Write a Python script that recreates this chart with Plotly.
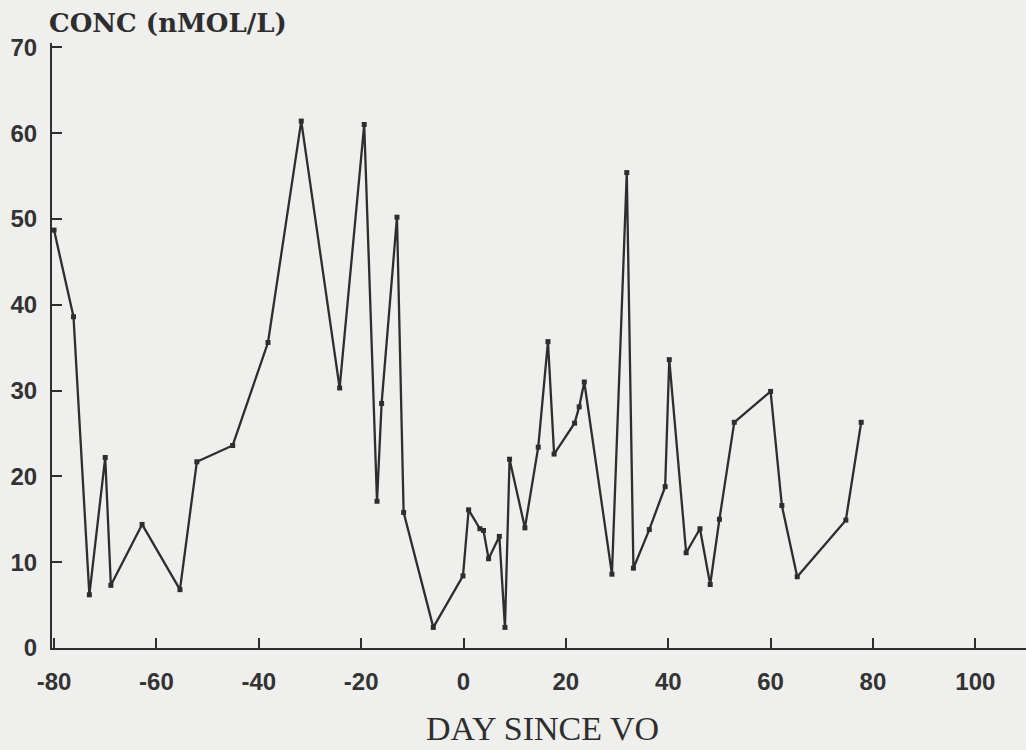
import plotly.graph_objects as go

# Day since VO (x) and concentration in nmol/L (y)
days = [-80, -76.2, -73.1, -70.0, -68.9, -62.8, -55.4, -52.1, -45.1, -38.2,
        -31.7, -24.2, -19.4, -16.9, -16.0, -13.0, -11.7, -5.9, -0.1, 1.0,
        3.2, 3.9, 4.9, 7.0, 8.1, 9.0, 12.0, 14.6, 16.5, 17.7,
        21.7, 22.6, 23.6, 29.0, 31.9, 33.2, 36.3, 39.4, 40.2, 43.5,
        46.2, 48.2, 50.0, 52.9, 60.0, 62.2, 65.2, 74.7, 77.7]
conc = [48.7, 38.6, 6.2, 22.2, 7.3, 14.4, 6.8, 21.7, 23.6, 35.6,
        61.4, 30.3, 61.0, 17.1, 28.5, 50.2, 15.8, 2.4, 8.4, 16.1,
        13.9, 13.7, 10.4, 13.0, 2.4, 22.0, 14.0, 23.4, 35.7, 22.6,
        26.2, 28.1, 31.0, 8.6, 55.4, 9.3, 13.8, 18.8, 33.6, 11.1,
        13.9, 7.4, 15.0, 26.3, 29.9, 16.6, 8.3, 14.9, 26.3]

x_ticks = [-80, -60, -40, -20, 0, 20, 40, 60, 80, 100]
y_ticks = [0, 10, 20, 30, 40, 50, 60, 70]
y_title = "CONC (nMOL/L)"
x_title = "DAY SINCE VO"

ink = "#2e2e2e"
bg = "#efefed"

fig = go.Figure()
fig.add_trace(go.Scatter(
    x=days, y=conc, mode="lines+markers",
    line=dict(color=ink, width=2.3),
    marker=dict(symbol="square", size=5, color=ink),
    showlegend=False, hoverinfo="skip",
))

tick_font = dict(family="Liberation Sans", size=24, color="#333333", weight="bold")

fig.update_layout(
    width=1026, height=750,
    margin=dict(l=52, r=0, t=43, b=102),
    paper_bgcolor=bg, plot_bgcolor=bg,
    xaxis=dict(
        range=[-80.4, 109.9], tickvals=x_ticks,
        ticktext=[str(v) for v in x_ticks],
        ticks="inside", ticklen=10, tickwidth=2, tickcolor=ink,
        showline=True, linecolor=ink, linewidth=2,
        showgrid=False, zeroline=False, tickfont=tick_font,
        ticklabelstandoff=11,
    ),
    yaxis=dict(
        range=[0, 70.5], tickvals=y_ticks,
        ticktext=[str(v) for v in y_ticks],
        ticks="inside", ticklen=10, tickwidth=1.5, tickcolor=ink,
        showline=True, linecolor=ink, linewidth=2,
        showgrid=False, zeroline=False, tickfont=tick_font,
        ticklabelstandoff=8,
    ),
    annotations=[
        dict(text=y_title, xref="paper", yref="paper", x=-0.005, y=1.0,
             xanchor="left", yanchor="bottom", yshift=3, showarrow=False,
             font=dict(family="DejaVu Serif", size=26, color=ink, weight="bold")),
        dict(text=x_title, xref="paper", yref="paper", x=(542 - 52) / 974, y=0,
             xanchor="center", yanchor="bottom", yshift=-101, showarrow=False,
             font=dict(family="Liberation Serif", size=34, color=ink)),
    ],
)

fig.write_html("out.html")
